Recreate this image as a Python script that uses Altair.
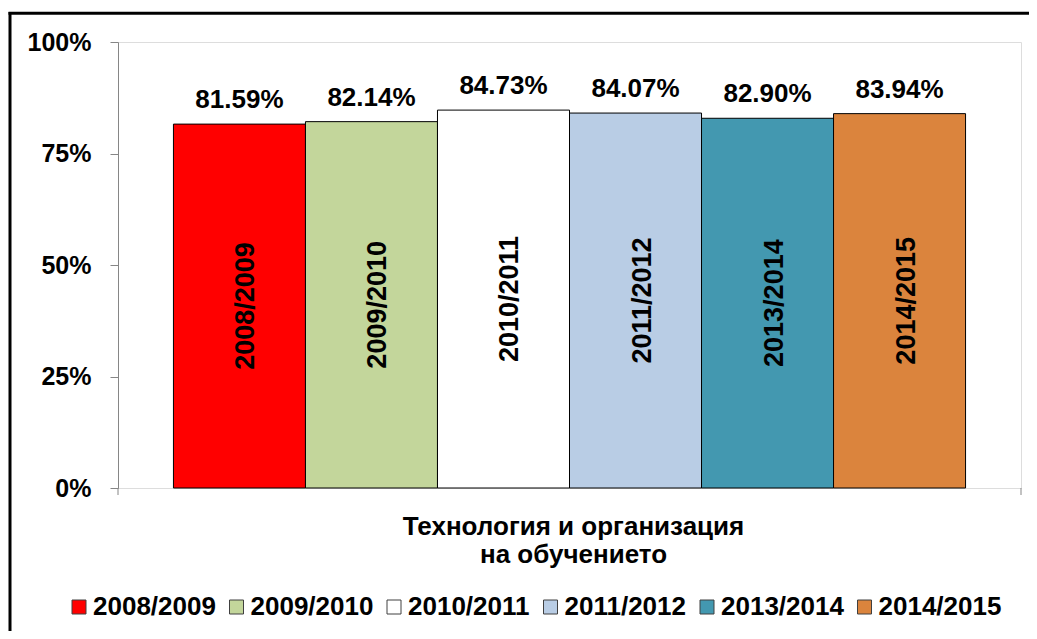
import altair as alt
import pandas as pd

seasons = ["2008/2009", "2009/2010", "2010/2011", "2011/2012", "2013/2014", "2014/2015"]
values = [0.8159, 0.8214, 0.8473, 0.8407, 0.8290, 0.8394]
value_labels = ["81.59%", "82.14%", "84.73%", "84.07%", "82.90%", "83.94%"]
colors = ["#FF0000", "#C3D69B", "#FFFFFF", "#B9CDE5", "#4398B0", "#DB843D"]
y_ticks = [0, 0.25, 0.5, 0.75, 1.0]
category = ["Технология и организация", "на обучението"]

df = pd.DataFrame({"season": seasons, "value": values, "label": value_labels})

FONT = "Liberation Sans"
GRAY = "#868686"
W, H = 903, 446

x_enc = alt.X(
    "season:N",
    sort=seasons,
    scale=alt.Scale(domain=seasons, paddingInner=0, paddingOuter=0.42),
    axis=alt.Axis(
        title=category, labels=False, ticks=False, domain=False,
        titleFont=FONT, titleFontSize=26, titleFontWeight="bold",
        titleColor="black", titlePadding=25, titleLineHeight=28, titleX=455,
    ),
)
y_enc = alt.Y(
    "value:Q",
    title=None,
    scale=alt.Scale(domain=[0, 1], nice=False),
    axis=alt.Axis(
        values=y_ticks, format=".0%", grid=False,
        domainColor=GRAY, tickColor=GRAY, tickSize=8,
        labelFont=FONT, labelFontSize=25, labelFontWeight="bold",
        labelColor="black", labelPadding=19,
    ),
)

base = alt.Chart(df)

bars = base.mark_bar(stroke="black", strokeWidth=1).encode(
    x=x_enc,
    y=y_enc,
    color=alt.Color(
        "season:N",
        scale=alt.Scale(domain=seasons, range=colors),
        legend=alt.Legend(
            title=None, orient="none", legendX=-52, legendY=552,
            direction="horizontal", columns=6,
            symbolType="square", symbolSize=196,
            symbolStrokeColor="#404040", symbolStrokeWidth=1,
            labelFont=FONT, labelFontSize=26, labelFontWeight="bold",
            labelColor="black", labelOffset=1, columnPadding=7.5, padding=0,
        ),
    ),
)

vals = base.mark_text(
    font=FONT, fontSize=26, fontWeight="bold", baseline="alphabetic",
    dy=-16, color="black",
).encode(
    x=alt.X("season:N", sort=seasons),
    y=alt.Y("value:Q", title=None),
    text="label:N",
)

years = base.transform_calculate(half="datum.value / 2").mark_text(
    font=FONT, fontSize=27, fontWeight="bold", angle=270,
    align="center", baseline="middle", dy=7, color="black",
).encode(
    x=alt.X("season:N", sort=seasons),
    y=alt.Y("half:Q", title=None),
    text="season:N",
)

one = pd.DataFrame({"k": [0]})
frame_left = alt.Chart(one).mark_rule(color="black", strokeWidth=3).encode(
    x=alt.value(-108), y=alt.value(-30), y2=alt.value(620)
)
frame_top = alt.Chart(one).mark_rule(color="black", strokeWidth=3).encode(
    x=alt.value(-109.5), x2=alt.value(930), y=alt.value(-28.7)
)
tick_l = alt.Chart(one).mark_rule(color=GRAY, strokeWidth=1).encode(
    x=alt.value(0), y=alt.value(H), y2=alt.value(H + 7)
)
tick_r = alt.Chart(one).mark_rule(color=GRAY, strokeWidth=1).encode(
    x=alt.value(W), y=alt.value(H), y2=alt.value(H + 7)
)

chart = alt.layer(
    bars, vals, years, frame_left, frame_top, tick_l, tick_r
).properties(
    width=W, height=H,
    padding={"left": 110, "top": 34, "right": 8, "bottom": 143},
    autosize=alt.AutoSizeParams(type="none"),
    background="white",
).configure_view(
    stroke=GRAY, strokeWidth=1
).configure(font=FONT)

chart.save("out.html", embed_options={"renderer": "svg", "actions": False})
